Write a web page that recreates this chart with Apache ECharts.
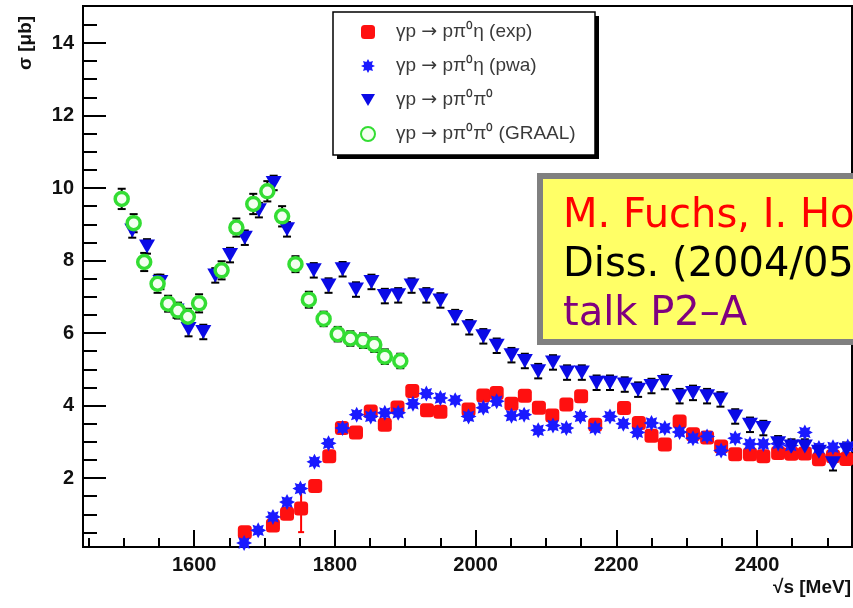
<!DOCTYPE html>
<html><head><meta charset="utf-8">
<script src="https://cdn.jsdelivr.net/npm/echarts@6/dist/echarts.min.js"></script>
<style>html,body{margin:0;padding:0;background:#fff}#c{width:853px;height:608px}</style>
</head><body><div id="c"></div>
<script>
// ---------- data ----------
const xMajorTicks = [1600, 1800, 2000, 2200, 2400];
const xMinorTicks = [1450, 1500, 1550, 1650, 1700, 1750, 1850, 1900, 1950, 2050, 2100, 2150, 2250, 2300, 2350, 2450, 2500];
const yMajorTicks = [2, 4, 6, 8, 10, 12, 14];
const yMinorTicks = [0.5, 1, 1.5, 2.5, 3, 3.5, 4.5, 5, 5.5, 6.5, 7, 7.5, 8.5, 9, 9.5, 10.5, 11, 11.5, 12.5, 13, 13.5, 14.5];

const seriesNames = ['γp → pπ⁰η (exp)', 'γp → pπ⁰η (pwa)', 'γp → pπ⁰π⁰', 'γp → pπ⁰π⁰ (GRAAL)'];

// [sqrt(s) MeV, sigma µb, error µb]
const etaExp = [
  [1672, 0.51, 0.08], [1712, 0.69, 0.08], [1732, 1.02, 0.1], [1752, 1.16, 0.65], [1772, 1.78, 0.1],
  [1792, 2.60, 0.1], [1810, 3.38, 0.1], [1830, 3.26, 0.1], [1851, 3.84, 0.1], [1871, 3.47, 0.1],
  [1889, 3.95, 0.1], [1910, 4.40, 0.1], [1931, 3.87, 0.1], [1950, 3.83, 0.1], [1990, 3.89, 0.1],
  [2011, 4.28, 0.1], [2030, 4.35, 0.1], [2051, 4.05, 0.1], [2070, 4.27, 0.1], [2090, 3.94, 0.1],
  [2109, 3.73, 0.1], [2129, 4.03, 0.1], [2150, 4.26, 0.1], [2170, 3.47, 0.1], [2211, 3.93, 0.1],
  [2232, 3.52, 0.1], [2250, 3.17, 0.1], [2269, 2.93, 0.1], [2290, 3.56, 0.1], [2309, 3.21, 0.1],
  [2329, 3.12, 0.1], [2349, 2.87, 0.1], [2369, 2.66, 0.1], [2390, 2.66, 0.1], [2409, 2.60, 0.1],
  [2430, 2.69, 0.1], [2449, 2.67, 0.1], [2468, 2.68, 0.1], [2488, 2.52, 0.1], [2508, 2.60, 0.1],
  [2527, 2.53, 0.1]
];
const etaPwa = [
  [1671, 0.21], [1691, 0.56], [1712, 0.93], [1732, 1.34], [1751, 1.71], [1771, 2.45], [1791, 2.96],
  [1811, 3.38], [1831, 3.75], [1851, 3.70], [1871, 3.80], [1890, 3.80], [1911, 4.05], [1930, 4.33],
  [1950, 4.21], [1971, 4.15], [1990, 3.70], [2011, 3.94], [2030, 4.12], [2051, 3.72], [2069, 3.75],
  [2089, 3.32], [2110, 3.45], [2129, 3.38], [2149, 3.70], [2170, 3.38], [2191, 3.70], [2210, 3.50],
  [2230, 3.26], [2250, 3.52], [2269, 3.38], [2290, 3.27], [2309, 3.10], [2329, 3.15], [2349, 2.76],
  [2369, 3.10], [2390, 2.94], [2409, 2.94], [2430, 2.95], [2448, 2.90], [2468, 3.26], [2488, 2.83],
  [2508, 2.85], [2529, 2.87]
];
const pipi = [
  [1512, 8.83, 0.2], [1533, 8.39, 0.2], [1552, 7.41, 0.2], [1575, 6.62, 0.2], [1592, 6.11, 0.2],
  [1613, 6.03, 0.2], [1630, 7.59, 0.2], [1651, 8.15, 0.2], [1672, 8.63, 0.2], [1692, 9.39, 0.2],
  [1713, 10.14, 0.2], [1732, 8.86, 0.2], [1770, 7.73, 0.2], [1791, 7.31, 0.2], [1811, 7.76, 0.2],
  [1830, 7.20, 0.2], [1852, 7.41, 0.2], [1871, 7.02, 0.2], [1890, 7.04, 0.2], [1909, 7.31, 0.2],
  [1930, 7.04, 0.2], [1950, 6.90, 0.2], [1971, 6.44, 0.2], [1991, 6.16, 0.2], [2011, 5.91, 0.2],
  [2030, 5.65, 0.2], [2051, 5.39, 0.2], [2070, 5.23, 0.2], [2089, 4.95, 0.2], [2110, 5.19, 0.2],
  [2130, 4.91, 0.2], [2151, 4.91, 0.2], [2172, 4.63, 0.2], [2191, 4.63, 0.2], [2212, 4.58, 0.2],
  [2231, 4.44, 0.2], [2250, 4.54, 0.2], [2269, 4.65, 0.2], [2290, 4.26, 0.2], [2309, 4.35, 0.2],
  [2329, 4.26, 0.2], [2348, 4.17, 0.2], [2369, 3.70, 0.2], [2390, 3.47, 0.2], [2409, 3.38, 0.2],
  [2430, 2.96, 0.2], [2449, 2.87, 0.2], [2468, 2.87, 0.2], [2488, 2.73, 0.2], [2508, 2.41, 0.2],
  [2527, 2.78, 0.2]
];
const graal = [
  [1497, 9.70, 0.28], [1514, 9.03, 0.25], [1529, 7.96, 0.25], [1548, 7.36, 0.25], [1563, 6.81, 0.22],
  [1577, 6.62, 0.22], [1591, 6.45, 0.22], [1607, 6.82, 0.25], [1639, 7.73, 0.25], [1660, 8.91, 0.25],
  [1684, 9.56, 0.28], [1704, 9.91, 0.28], [1725, 9.22, 0.28], [1744, 7.90, 0.22], [1763, 6.92, 0.22],
  [1784, 6.39, 0.2], [1804, 5.97, 0.2], [1822, 5.85, 0.2], [1840, 5.79, 0.2], [1856, 5.68, 0.2],
  [1871, 5.35, 0.2], [1893, 5.23, 0.2]
];

const annotationLines = ['M. Fuchs, I. Horn', 'Diss. (2004/05)', 'talk P2–A'];

// ---------- chart ----------
const starPath = 'path://M20,10 L15.54,12.3 L17.07,17.07 L12.3,15.54 L10,20 L7.7,15.54 L2.93,17.07 L4.46,12.3 L0,10 L4.46,7.7 L2.93,2.93 L7.7,4.46 L10,0 L12.3,4.46 L17.07,2.93 L15.54,7.7 Z';
const triPath = 'path://M0,0 L20,0 L10,17 Z';
const XMIN = 1442, XMAX = 2535, YMIN = 0.1, YMAX = 15.02;
const FONT = 'Liberation Sans, Arial, sans-serif';

function errSeries(data, color, capHalf) {
  return {
    type: 'custom', silent: true, z: 1, clip: true,
    xAxisIndex: 0, yAxisIndex: 0,
    encode: { x: 0, y: 1 },
    data: data,
    renderItem: function (params, api) {
      const x = api.value(0), y = api.value(1), e = api.value(2);
      const a = api.coord([x, y - e]), b = api.coord([x, y + e]);
      const st = { stroke: color, lineWidth: 2 };
      return {
        type: 'group', children: [
          { type: 'line', shape: { x1: a[0], y1: a[1], x2: b[0], y2: b[1] }, style: st },
          { type: 'line', shape: { x1: a[0] - capHalf, y1: a[1], x2: a[0] + capHalf, y2: a[1] }, style: st },
          { type: 'line', shape: { x1: b[0] - capHalf, y1: b[1], x2: b[0] + capHalf, y2: b[1] }, style: st }
        ]
      };
    }
  };
}

const chart = echarts.init(document.getElementById('c'), null, { renderer: 'canvas' });
const axisLab = { fontSize: 20, fontWeight: 'bold', color: '#111', fontFamily: FONT, formatter: function (v) { return String(v); } };

chart.setOption({
  animation: false,
  backgroundColor: '#fff',
  grid: { left: 83, top: 6, width: 769, height: 541, show: true, borderColor: '#000', borderWidth: 2, backgroundColor: 'transparent' },
  xAxis: [
    { type: 'value', min: XMIN, max: XMAX, position: 'bottom',
      axisLine: { show: true, onZero: false, lineStyle: { color: '#000', width: 2 } },
      axisTick: { show: true, inside: true, length: 17, customValues: xMajorTicks, lineStyle: { color: '#000', width: 2 } },
      axisLabel: { show: true, customValues: xMajorTicks, margin: 8, ...axisLab },
      splitLine: { show: false } },
    { type: 'value', min: XMIN, max: XMAX, position: 'bottom',
      axisLine: { show: false, onZero: false },
      axisTick: { show: true, inside: true, length: 9, customValues: xMinorTicks, lineStyle: { color: '#000', width: 2 } },
      axisLabel: { show: false },
      splitLine: { show: false } }
  ],
  yAxis: [
    { type: 'value', min: YMIN, max: YMAX, position: 'left',
      axisLine: { show: true, onZero: false, lineStyle: { color: '#000', width: 2 } },
      axisTick: { show: true, inside: true, length: 23, customValues: yMajorTicks, lineStyle: { color: '#000', width: 2 } },
      axisLabel: { show: true, customValues: yMajorTicks, margin: 9, ...axisLab },
      splitLine: { show: false } },
    { type: 'value', min: YMIN, max: YMAX, position: 'left',
      axisLine: { show: false, onZero: false },
      axisTick: { show: true, inside: true, length: 14, customValues: yMinorTicks, lineStyle: { color: '#000', width: 2 } },
      axisLabel: { show: false },
      splitLine: { show: false } }
  ],
  legend: {
    data: seriesNames,
    orient: 'vertical', left: 360, top: 21, padding: 0,
    itemWidth: 14, itemHeight: 14, itemGap: 12,
    selectedMode: false,
    formatter: function (n) { return '{p|}' + n.replace('→', '{a|→}'); },
    textStyle: { fontSize: 19, lineHeight: 22, color: '#3a3a3a', fontFamily: FONT,
      rich: { p: { width: 16 }, a: { fontFamily: 'DejaVu Sans', fontSize: 19, color: '#3a3a3a', lineHeight: 22 } } },
    z: 10
  },
  graphic: [
    { type: 'rect', z: 5, shape: { x: 337, y: 16, width: 262, height: 143 }, style: { fill: '#000' } },
    { type: 'rect', z: 6, shape: { x: 333, y: 12, width: 262, height: 143 },
      style: { fill: '#fff', stroke: '#000', lineWidth: 1.5 } },
    { type: 'rect', z: 20, shape: { x: 540, y: 176, width: 330, height: 166 },
      style: { fill: '#ffff66', stroke: '#808080', lineWidth: 6 } },
    { type: 'text', z: 21, x: 563, y: 217, style: { text: annotationLines[0], fill: '#ff0000', font: '40px "DejaVu Sans"', verticalAlign: 'middle' } },
    { type: 'text', z: 21, x: 563, y: 266, style: { text: annotationLines[1], fill: '#000000', font: '40px "DejaVu Sans"', verticalAlign: 'middle' } },
    { type: 'text', z: 21, x: 563, y: 315, style: { text: annotationLines[2], fill: '#800080', font: '40px "DejaVu Sans"', verticalAlign: 'middle' } },
    { type: 'text', z: 21, x: 26, y: 43, rotation: Math.PI / 2,
      style: { text: 'σ [μb]', fill: '#111', font: 'bold 19px "Liberation Sans", Arial, sans-serif', align: 'center', verticalAlign: 'middle' } },
    { type: 'text', z: 21, x: 851, y: 588,
      style: { text: '√s [MeV]', fill: '#111', font: 'bold 19px "Liberation Sans", Arial, sans-serif', align: 'right', verticalAlign: 'middle' } }
  ],
  series: [
    errSeries(etaExp, '#ff0000', 3),
    errSeries(pipi, '#000', 4),
    errSeries(graal, '#000', 4),
    { name: seriesNames[0], type: 'scatter', data: etaExp, encode: { x: 0, y: 1 },
      symbol: 'roundRect', symbolSize: 14, itemStyle: { color: '#ff1010', opacity: 1 }, z: 3 },
    { name: seriesNames[1], type: 'scatter', data: etaPwa, encode: { x: 0, y: 1 },
      symbol: starPath, symbolSize: 16, itemStyle: { color: '#1a1aff', opacity: 1 }, z: 4 },
    { name: seriesNames[2], type: 'scatter', data: pipi, encode: { x: 0, y: 1 },
      symbol: triPath, symbolSize: [16, 14], itemStyle: { color: '#0a0ae6', opacity: 1 }, z: 5 },
    { name: seriesNames[3], type: 'scatter', data: graal, encode: { x: 0, y: 1 },
      symbol: 'circle', symbolSize: 13, itemStyle: { color: '#f4fff0', borderColor: '#33dd33', borderWidth: 3.5, opacity: 1 }, z: 6 }
  ]
});
</script></body></html>
